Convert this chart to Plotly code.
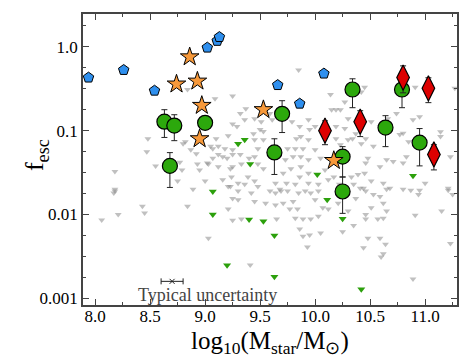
import numpy as np
import plotly.graph_objects as go

# gray upper limits (triangles)
gray_mass = [8.84, 8.48, 8.47, 8.55, 8.18, 8.18, 8.80, 8.82, 8.87, 8.92, 8.77, 8.79, 8.75, 8.95, 8.89,
             9.00, 9.02, 9.09, 9.25, 9.07, 9.12, 9.20, 9.25, 8.93, 9.03, 9.23, 9.29,
             8.18, 8.17, 8.06, 8.21, 8.43, 8.45, 8.84, 9.03, 9.23, 9.25, 9.21, 9.25,
             9.37, 9.32, 9.45, 9.36, 9.25, 9.51, 9.59, 9.61, 9.79, 9.86, 9.95, 10.00, 9.94, 10.15,
             9.10, 9.21, 9.44, 9.50, 9.53, 9.45, 9.53, 9.05, 9.12, 9.18, 9.25, 9.16, 9.32, 9.07,
             9.48, 9.45, 9.40, 9.75, 9.83, 9.87, 9.94, 9.82, 9.89, 10.00, 9.80, 9.87, 9.94, 10.05,
             9.73, 9.33, 9.25, 9.12, 9.48, 9.53, 9.71, 9.78, 9.87, 9.94, 10.09, 9.39, 9.24, 9.16,
             9.30, 9.36, 9.21, 9.45, 9.48, 9.64, 9.68, 9.74, 9.86, 9.82, 9.94, 10.03, 10.12,
             9.30, 9.42, 9.30, 9.45, 9.59, 9.64, 9.69, 9.75, 9.55, 9.64, 9.71, 9.80, 9.85, 9.91,
             9.96, 10.03, 10.00, 10.07, 10.12, 9.77, 9.84, 9.82, 9.89, 9.96, 10.03, 9.33, 9.65,
             9.86, 9.89, 9.95, 10.05, 9.93, 9.41,
             9.85, 10.14, 10.45, 10.42, 10.27, 10.19, 10.23, 10.91, 11.27, 10.89, 10.95, 10.74,
             10.66, 10.59, 10.51, 10.30, 10.27, 10.19, 10.37, 10.30, 10.34, 10.42, 10.46, 10.53,
             10.77, 10.80, 10.85, 11.14, 11.14, 11.23, 10.19, 10.23, 10.48, 10.46, 10.65, 10.71,
             10.80, 10.83, 10.59, 10.45, 10.39, 10.33, 10.51, 10.62, 10.68, 10.17, 10.22, 11.00,
             11.21, 10.35, 10.44,
             10.41, 10.46, 10.53, 10.59, 10.65, 10.80, 10.87, 10.95, 10.94, 11.21, 11.25, 10.37,
             10.21, 10.30, 10.62, 10.51, 10.65, 10.46, 10.46, 10.57, 10.62, 10.91, 11.15, 10.35,
             10.25, 10.48, 10.59, 10.64, 10.44, 10.62, 10.60, 11.23, 10.89]
gray_fesc = [0.31, 0.080, 0.056, 0.038, 0.0325, 0.020, 0.070, 0.074, 0.059, 0.053, 0.042, 0.034, 0.025, 0.034, 0.020,
             0.025, 0.041, 0.24, 0.26, 0.061, 0.052, 0.047, 0.052, 0.040, 0.040, 0.035, 0.112,
             0.019, 0.018, 0.0086, 0.010, 0.0125, 0.0104, 0.0125, 0.0052, 0.0216, 0.0155, 0.0116, 0.0085,
             0.183, 0.16, 0.139, 0.135, 0.12, 0.128, 0.16, 0.135, 0.128, 0.112, 0.103, 0.112, 0.135, 0.178,
             0.080, 0.087, 0.092, 0.103, 0.098, 0.078, 0.078, 0.065, 0.065, 0.061, 0.059, 0.049, 0.052, 0.047,
             0.061, 0.049, 0.047, 0.061, 0.080, 0.085, 0.078, 0.061, 0.061, 0.059, 0.049, 0.049, 0.045, 0.047,
             0.045, 0.040, 0.037, 0.037, 0.040, 0.035, 0.031, 0.035, 0.037, 0.031, 0.034, 0.028, 0.028, 0.026,
             0.0235, 0.023, 0.0216, 0.025, 0.0216, 0.0235, 0.020, 0.0235, 0.028, 0.023, 0.0235, 0.023, 0.026,
             0.019, 0.018, 0.015, 0.0143, 0.019, 0.018, 0.019, 0.019, 0.0136, 0.013, 0.0136, 0.0143, 0.018, 0.019,
             0.018, 0.019, 0.015, 0.012, 0.0116, 0.0116, 0.0116, 0.0090, 0.0088, 0.0088, 0.0095, 0.0088, 0.0088,
             0.0067, 0.0055, 0.0057, 0.006, 0.0041, 0.0025,
             0.53, 0.27, 0.33, 0.29, 0.22, 0.178, 0.178, 0.33, 0.32, 0.135, 0.147, 0.16,
             0.139, 0.112, 0.128, 0.139, 0.106, 0.112, 0.092, 0.078, 0.080, 0.070, 0.080, 0.065,
             0.090, 0.093, 0.074, 0.097, 0.085, 0.049, 0.080, 0.068, 0.047, 0.041, 0.045, 0.043,
             0.041, 0.049, 0.037, 0.031, 0.030, 0.028, 0.025, 0.0235, 0.0205, 0.028, 0.023, 0.0235,
             0.0205, 0.023, 0.0205,
             0.0205, 0.019, 0.0173, 0.0164, 0.020, 0.020, 0.0194, 0.0194, 0.0173, 0.0194, 0.0173, 0.0155,
             0.0136, 0.011, 0.0136, 0.012, 0.011, 0.010, 0.0088, 0.0088, 0.009, 0.0098, 0.011, 0.0074,
             0.0062, 0.0052, 0.0052, 0.0044, 0.0040, 0.0034, 0.0031, 0.0045, 0.0017]

# green upper limits (triangles)
gtri_mass = [9.30, 9.36, 9.41, 10.02, 10.89, 9.07, 9.07, 9.20, 10.11, 10.25, 9.40, 9.53, 9.63, 9.63, 10.42]
gtri_fesc = [0.070, 0.078, 0.040, 0.030, 0.029, 0.0188, 0.010, 0.00247, 0.015, 0.0089, 0.0087, 0.0083,
             0.0056, 0.0018, 0.00128]

# blue pentagons
pent_mass = [7.94, 8.26, 8.54, 9.02, 9.11, 9.13, 9.66, 10.08, 9.86]
pent_fesc = [0.43, 0.53, 0.30, 0.98, 1.18, 1.31, 0.35, 0.48, 0.21]

# orange stars
star_mass = [8.86, 8.74, 8.93, 8.97, 8.95, 9.53, 10.17]
star_fesc = [0.76, 0.36, 0.39, 0.20, 0.080, 0.178, 0.044]

# green circles with errors
circ_mass = [8.63, 8.72, 9.00, 8.68, 9.70, 9.63, 10.34, 10.79, 10.64, 10.95, 10.25, 10.25]
circ_fesc = [0.128, 0.115, 0.124, 0.038, 0.159, 0.055, 0.31, 0.31, 0.109, 0.072, 0.049, 0.0188]
circ_hi = [0.178, 0.155, 0.124, 0.0547, 0.228, 0.080, 0.416, 0.40, 0.151, 0.106, 0.0645, 0.028]
circ_lo = [0.083, 0.076, 0.124, 0.021, 0.095, 0.030, 0.188, 0.188, 0.0645, 0.038, 0.028, 0.0103]

# red diamonds with errors
diam_mass = [10.80, 11.03, 10.41, 10.09, 11.08]
diam_fesc = [0.43, 0.32, 0.128, 0.10, 0.052]
diam_hi = [0.594, 0.428, 0.173, 0.131, 0.068]
diam_lo = [0.283, 0.216, 0.085, 0.068, 0.034]

# typical uncertainty marker
unc_mass = [8.70]
unc_fesc = [0.00159]
unc_err = [0.1]

FONT = "Liberation Serif"

fig = go.Figure()

fig.add_trace(go.Scatter(x=gray_mass, y=gray_fesc, mode="markers",
                         marker=dict(symbol="triangle-down", size=6, color="rgba(140,140,140,0.55)",
                                     line=dict(width=0))))
fig.add_trace(go.Scatter(x=gtri_mass, y=gtri_fesc, mode="markers",
                         marker=dict(symbol="triangle-down", size=7, color="#2ca00c", line=dict(width=0))))

fig.add_trace(go.Scatter(x=circ_mass, y=circ_fesc, mode="markers",
                         error_y=dict(type="data", symmetric=False,
                                      array=np.array(circ_hi) - np.array(circ_fesc),
                                      arrayminus=np.array(circ_fesc) - np.array(circ_lo),
                                      color="#222", thickness=1, width=3),
                         marker=dict(symbol="circle", size=15, color="#2ca80c",
                                     line=dict(width=1.2, color="black"))))
fig.add_trace(go.Scatter(x=diam_mass, y=diam_fesc, mode="markers",
                         error_y=dict(type="data", symmetric=False,
                                      array=np.array(diam_hi) - np.array(diam_fesc),
                                      arrayminus=np.array(diam_fesc) - np.array(diam_lo),
                                      color="#222", thickness=1, width=3),
                         marker=dict(symbol="diamond-tall", size=18, color="#dd0000",
                                     line=dict(width=1.2, color="black"))))
fig.add_trace(go.Scatter(x=pent_mass, y=pent_fesc, mode="markers",
                         marker=dict(symbol="pentagon", size=11, color="#2e8fee",
                                     line=dict(width=1, color="black"))))
fig.add_trace(go.Scatter(x=star_mass, y=star_fesc, mode="markers",
                         marker=dict(symbol="star", size=14, color="#f7993a",
                                     line=dict(width=1, color="black"))))
fig.add_trace(go.Scatter(x=unc_mass, y=unc_fesc, mode="markers",
                         error_x=dict(type="data", array=unc_err, color="#222", thickness=1, width=3),
                         marker=dict(symbol="x-thin", size=5, line=dict(width=1, color="#222"))))

fig.add_annotation(x=9.02, y=np.log10(0.00108), text="Typical uncertainty", showarrow=False,
                   font=dict(family=FONT, size=18, color="#444"))

# axis titles
fig.add_annotation(xref="paper", yref="paper", x=0.5, y=-0.068, yanchor="top", showarrow=False,
                   text="log<sub>10</sub>(M<sub>star</sub>/M<sub>⊙</sub>)",
                   font=dict(family=FONT, size=25, color="black"))
fig.add_annotation(xref="paper", yref="paper", x=-0.172, y=0.514, textangle=-90, showarrow=False,
                   text="f<sub>esc</sub>", font=dict(family=FONT, size=26, color="black"))

y_minor = [10 ** (d + q / 4) for d in range(-4, 1) for q in (1, 2, 3)]

# page body has an 8px margin, so the figure is 8px smaller and shifted
fig.update_layout(
    width=461, height=353,
    margin=dict(l=75, r=12, t=4, b=56),
    paper_bgcolor="white", plot_bgcolor="white",
    showlegend=False,
    font=dict(family=FONT, size=17, color="black"),
    xaxis=dict(range=[7.89, 11.29], showgrid=False, zeroline=False,
               tickvals=[8.0, 8.5, 9.0, 9.5, 10.0, 10.5, 11.0],
               ticktext=["8.0", "8.5", "9.0", "9.5", "10.0", "10.5", "11.0"],
               ticks="inside", ticklen=6, tickcolor="#444", showline=True, mirror="ticks",
               linecolor="#444", linewidth=1.5, ticklabelstandoff=-5,
               minor=dict(dtick=0.25, ticks="inside", ticklen=3, tickcolor="#444")),
    yaxis=dict(type="log", range=[np.log10(0.00083), np.log10(2.47)], showgrid=False, zeroline=False,
               tickvals=[0.001, 0.01, 0.1, 1.0], ticktext=["0.001", "0.01", "0.1", "1.0"],
               ticks="inside", ticklen=6, tickcolor="#444", showline=True, mirror="ticks",
               linecolor="#444", linewidth=1.5,
               minor=dict(tickvals=y_minor, ticks="inside", ticklen=3, tickcolor="#444")),
)

fig.write_html("out.html")
